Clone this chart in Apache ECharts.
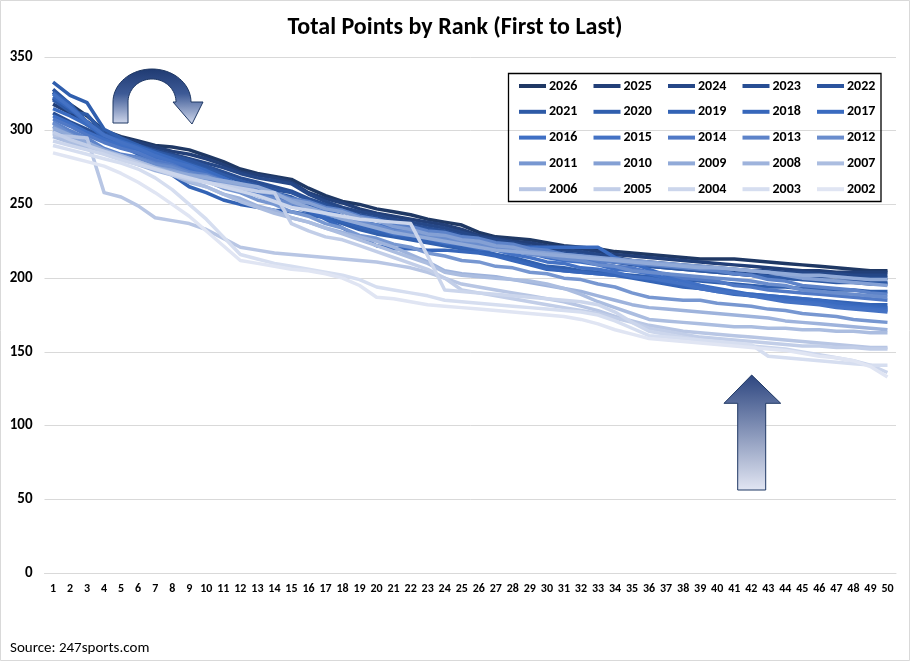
<!DOCTYPE html>
<html><head><meta charset="utf-8">
<script src="https://cdn.jsdelivr.net/npm/echarts@6/dist/echarts.min.js"></script>
<style>html,body{margin:0;padding:0;background:#fff}#c{width:910px;height:661px}</style>
</head><body><div id="c"></div>
<script>
const ranks = ["1","2","3","4","5","6","7","8","9","10","11","12","13","14","15","16","17","18","19","20","21","22","23","24","25","26","27","28","29","30","31","32","33","34","35","36","37","38","39","40","41","42","43","44","45","46","47","48","49","50"];
const years = ["2026","2025","2024","2023","2022","2021","2020","2019","2018","2017","2016","2015","2014","2013","2012","2011","2010","2009","2008","2007","2006","2005","2004","2003","2002"];
const colors = ["#1f3864","#223f78","#254787","#284e94","#2b549e","#2e5aa6","#305fae","#3363b5","#3767bb","#3a6bc0","#3f6fc4","#4472c4","#5079c6","#5d83c9","#6a8dcd","#7797d1","#84a0d4","#91aad8","#9eb3dc","#abbde0","#b8c6e4","#c2cee8","#ccd6ec","#d6def0","#e0e5f3"];

const v2026 = [326,318,310,300,296,293,290,289,287,283,279,274,271,269,267,261,256,252,250,247,245,243,240,238,236,231,228,227,226,224,222,221,220,218,217,216,215,214,213,213,213,212,211,210,209,208,207,206,205,205];
const v2025 = [318,312,306,299,295,292,289,286,284,281,277,272,270,268,265,258,254,251,247,244,242,240,238,236,233,229,227,225,224,222,221,220,218,216,215,214,213,212,211,210,209,208,207,206,205,205,204,204,204,204];
const v2024 = [322,314,304,297,293,290,287,284,281,278,275,271,268,266,264,257,252,248,245,243,240,238,236,234,231,228,226,224,222,220,219,218,216,214,212,211,210,209,208,207,206,205,205,204,204,203,203,202,202,202];
const v2023 = [312,306,301,295,291,288,285,282,279,276,272,268,265,262,259,254,250,246,243,241,238,236,234,232,229,226,224,222,220,218,217,216,214,212,210,209,208,207,206,205,204,204,203,203,202,201,201,200,200,200];
const v2022 = [328,318,306,296,292,289,286,283,280,276,270,266,263,260,258,253,249,245,242,240,237,235,233,231,228,225,223,221,219,217,216,215,213,211,209,208,207,206,205,204,203,202,201,200,199,199,198,198,197,197];
const v2021 = [321,313,311,298,294,290,286,282,278,274,270,266,262,258,255,250,246,242,239,236,234,232,230,228,226,224,222,220,218,216,215,214,212,211,210,208,207,206,205,204,203,202,201,200,199,198,197,197,196,196];
const v2020 = [333,324,319,301,295,290,285,280,276,271,266,262,258,253,249,245,241,237,233,230,228,226,224,222,220,218,216,214,211,208,207,205,204,203,202,201,200,199,198,197,196,195,194,194,193,193,192,192,191,191];
const v2019 = [326,318,305,295,290,284,278,270,262,258,253,250,248,246,245,243,241,238,235,232,229,227,225,223,221,219,216,213,210,207,205,204,203,202,200,198,196,194,193,192,190,189,188,187,186,185,184,183,182,182];
const v2018 = [323,315,305,296,292,288,284,280,276,272,268,262,256,252,250,246,240,234,228,222,220,220,219,219,218,217,215,212,209,206,205,204,203,202,201,199,197,195,193,191,189,188,187,186,185,184,183,182,181,180];
const v2017 = [315,310,304,297,293,289,285,281,277,273,268,263,259,255,252,248,244,240,237,234,232,230,228,226,224,222,221,221,221,221,221,221,221,214,210,206,202,198,195,193,191,189,188,187,186,185,183,181,180,179];
const v2016 = [310,305,299,294,290,287,282,279,274,270,267,262,259,255,251,248,246,242,238,236,234,231,228,227,224,223,220,218,217,214,212,211,209,206,205,203,200,198,195,192,190,188,187,185,184,183,181,180,179,178];
const v2015 = [325,316,306,297,292,288,283,279,276,271,266,263,258,254,251,247,243,241,237,234,230,229,227,224,223,220,219,216,214,211,210,207,206,204,201,200,198,196,193,191,190,188,186,184,183,182,180,179,178,177];
const v2014 = [308,303,297,292,288,285,280,277,272,268,266,261,258,254,251,247,245,241,239,235,233,232,229,227,226,223,221,220,217,215,214,213,210,208,207,204,203,200,199,198,195,194,192,191,190,189,188,187,186,185];
const v2013 = [306,300,295,288,284,282,278,276,272,270,266,264,260,258,254,252,248,246,242,240,236,235,232,231,228,227,224,223,220,219,216,215,212,211,210,209,208,207,206,205,203,202,199,198,195,194,193,192,190,189];
const v2012 = [305,298,292,287,283,281,277,275,271,268,263,260,256,254,250,248,244,242,238,236,232,231,228,227,224,223,220,219,216,215,213,212,209,208,205,204,203,202,201,200,199,198,196,195,192,191,190,189,188,187];
const v2011 = [303,297,291,286,282,279,275,273,269,266,261,258,253,250,245,242,237,234,229,227,223,221,217,215,212,211,208,207,204,203,200,199,196,194,190,187,186,185,185,183,182,181,179,178,176,175,174,172,171,170];
const v2010 = [300,295,290,286,281,279,275,273,270,269,265,263,259,257,253,251,247,245,241,239,235,233,230,229,226,225,222,221,218,217,216,215,214,213,212,211,210,209,208,207,206,205,204,202,200,199,198,197,196,195];
const v2009 = [302,297,292,287,283,279,275,272,270,268,266,264,262,258,252,248,244,240,237,234,231,229,227,225,223,221,219,218,217,216,215,214,213,212,211,210,209,208,207,207,206,205,204,203,202,202,201,200,199,199];
const v2008 = [298,293,289,285,281,277,273,270,265,262,257,254,249,246,241,238,234,231,228,225,221,216,211,205,203,202,201,199,197,195,193,191,188,185,182,180,179,178,177,176,175,174,173,171,170,169,168,167,166,165];
const v2007 = [296,292,289,286,283,279,275,271,266,262,257,252,248,244,241,238,234,230,226,222,218,214,210,204,202,201,200,199,198,196,193,189,184,180,176,172,171,170,169,168,167,167,166,166,165,165,164,164,163,163];
const v2006 = [297,296,295,258,255,249,241,239,237,233,227,221,219,217,216,215,214,213,212,211,209,207,204,200,196,194,192,190,188,186,184,181,178,174,171,168,166,164,163,162,161,160,159,158,157,156,155,154,153,153];
const v2005 = [299,294,290,286,282,278,274,270,267,265,263,261,259,258,237,232,228,226,222,218,214,210,206,200,192,190,188,186,184,182,180,178,176,173,170,166,164,162,160,159,158,157,156,155,154,154,153,153,152,152];
const v2004 = [293,290,287,284,280,277,274,271,268,265,262,259,256,252,248,246,244,242,240,239,238,237,215,192,191,190,189,188,187,186,185,184,182,177,170,164,162,160,158,156,155,154,153,152,150,148,146,144,141,136];
const v2003 = [290,287,284,281,278,274,268,260,250,240,228,216,213,210,208,206,204,202,199,194,192,190,188,185,184,183,182,181,180,179,178,177,175,171,166,161,160,159,158,157,156,155,147,146,145,144,143,142,141,141];
const v2002 = [285,282,279,276,271,265,258,250,242,232,222,212,210,208,206,205,203,200,195,187,186,184,182,181,180,179,178,177,176,175,174,172,169,165,162,159,158,157,156,155,154,153,152,151,149,147,146,144,140,133];

const values = [v2026,v2025,v2024,v2023,v2022,v2021,v2020,v2019,v2018,v2017,v2016,v2015,v2014,v2013,v2012,v2011,v2010,v2009,v2008,v2007,v2006,v2005,v2004,v2003,v2002];
const yTicks = {min:0, max:350, interval:50};
const titleText = "Total Points by Rank (First to Last)";
const sourceText = "Source: 247sports.com";

const FONT = 'Carlito, Calibri, Lato, "Open Sans", sans-serif';
const chart = echarts.init(document.getElementById('c'), null, {renderer:'canvas'});

const legendCols = [0,1,2,3,4].map(c => [0,1,2,3,4].map(r => years[r*5+c]));

function vgrad(stops){
  return {type:'linear', x:0, y:0, x2:0, y2:1, global:false,
    colorStops:stops.map(s=>({offset:s[0], color:s[1]}))};
}

// curved arrow outline (decoration shape, not data)
function arcPts(cx, cy, rx, ry, t0, t1, n){
  const pts = [];
  for (let k = 0; k <= n; k++){
    const t = t0 + (t1 - t0) * k / n;
    pts.push([cx + rx * Math.cos(t), cy - ry * Math.sin(t)]);
  }
  return pts;
}
const curvedArrow = [[113,123]]
  .concat(arcPts(152,102,39,33,Math.PI,0,40))
  .concat([[203,102],[192,124],[173,102]])
  .concat(arcPts(152,102,24,23,0,Math.PI,40))
  .concat([[128,123]]);
const upArrow = [[751.7,375],[780.7,403.3],[765.7,403.3],[765.7,490],[737.7,490],[737.7,403.3],[724,403.3]];

const option = {
  animation:false,
  backgroundColor:'#ffffff',
  title:{text:titleText, left:'center', top:11,
    textStyle:{fontFamily:FONT, fontSize:24, fontWeight:'bold', color:'#000'}},
  grid:{left:44.5, right:14, top:57, bottom:88, containLabel:false},
  xAxis:{type:'category', data:ranks, boundaryGap:true,
    axisLine:{lineStyle:{color:'#d9d9d9', width:1}},
    axisTick:{show:false},
    axisLabel:{interval:0, color:'#000', fontFamily:FONT, fontSize:12, fontWeight:'bold', margin:10}},
  yAxis:{type:'value', min:yTicks.min, max:yTicks.max, interval:yTicks.interval,
    axisLine:{show:false}, axisTick:{show:false},
    splitLine:{lineStyle:{color:'#d9d9d9', width:1}},
    axisLabel:{color:'#000', fontFamily:FONT, fontSize:15, fontWeight:'bold', margin:12}},
  legend: legendCols.map((col,i)=>({
    orient:'vertical', left:519 + i*74.5, top:79, padding:0,
    itemWidth:27, itemHeight:4, itemGap:11.8, icon:'rect',
    data:col, selectedMode:false,
    textStyle:{fontFamily:FONT, fontSize:14, fontWeight:'bold', color:'#000', lineHeight:14, padding:[0,0,0,-2]}
  })),
  series: years.map((y,i)=>({
    name:y, type:'line', data:values[i], symbol:'none', showSymbol:false,
    lineStyle:{width:3.5, color:colors[i], join:'round'},
    itemStyle:{color:colors[i]},
    emphasis:{disabled:true}, silent:true
  })),
  graphic:[
    {type:'rect', shape:{x:0.5, y:0.5, width:909, height:660}, style:{fill:'none', stroke:'#d9d9d9', lineWidth:1}, z:100},
    {type:'rect', shape:{x:508.5, y:73.5, width:372.5, height:128}, style:{fill:'none', stroke:'#000', lineWidth:1.3}, z:100},
    {type:'text', x:10, y:641, style:{text:sourceText, font:'15px ' + FONT, fill:'#000'}, z:100},
    {type:'polygon', z:100, shape:{points:curvedArrow},
      style:{fill:vgrad([[0,'#1f3a72'],[0.45,'#3d5a96'],[1,'#d4dbee']]), stroke:'#1f3864', lineWidth:1}},
    {type:'polygon', z:100, shape:{points:upArrow},
      style:{fill:vgrad([[0,'#2d4680'],[1,'#e2e6f3']]), stroke:'#1f3864', lineWidth:1}}
  ]
};
chart.setOption(option);
</script>
</body></html>
